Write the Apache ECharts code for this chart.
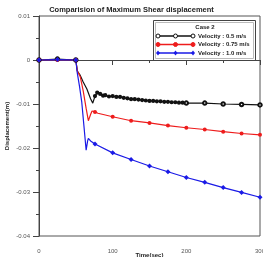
<!DOCTYPE html>
<html lang="en">
<head>
    <meta charset="UTF-8">
    <title></title>
    <script src="https://cdn.jsdelivr.net/npm/echarts@6/dist/echarts.min.js"></script>
    <style>
        body{margin:0;background:#fff;}
    </style>
</head>
<body>
    <div id="charts" style="width:263px;height:257px;"></div>
    <script type="text/javascript">
        // [time, displacement]
        var v05 = [[0,0],[25,0.0002],[50,0],[52,-0.0025],[56,-0.0035],[60,-0.005],[65,-0.0066],[70,-0.0088],[73,-0.0098],[76,-0.0082],[79,-0.0074],[83,-0.0077],[87,-0.0081],[90,-0.008],[95,-0.0083],[100,-0.0082],[105,-0.0084],[110,-0.0084],[115,-0.0086],[120,-0.0087],[125,-0.0089],[130,-0.0089],[135,-0.009],[140,-0.0091],[145,-0.0092],[150,-0.0093],[155,-0.0093],[160,-0.0094],[165,-0.0094],[170,-0.0095],[175,-0.0095],[180,-0.0096],[185,-0.0096],[190,-0.0097],[195,-0.0097],[200,-0.0098],[225,-0.0098],[250,-0.01],[275,-0.0101],[300,-0.0102]];
        var v075 = [[0,0],[25,0],[50,0],[52,-0.0025],[56,-0.0038],[60,-0.007],[64,-0.011],[67,-0.0138],[70,-0.0124],[72,-0.0116],[76,-0.0118],[80,-0.0121],[90,-0.0125],[100,-0.0129],[125,-0.0138],[150,-0.0143],[175,-0.0149],[200,-0.0154],[225,-0.0158],[250,-0.0163],[275,-0.0167],[300,-0.017]];
        var v10 = [[0,0],[25,0.0001],[50,0],[52,-0.003],[55,-0.006],[58,-0.0095],[61,-0.015],[64,-0.0205],[66,-0.0184],[67,-0.0178],[70,-0.0184],[76,-0.0191],[100,-0.0211],[125,-0.0226],[150,-0.0241],[175,-0.0254],[200,-0.0267],[225,-0.0278],[250,-0.029],[275,-0.0301],[300,-0.0312]];
        // times where the series show a full marker
        var markTimes = [0,25,50,76,100,125,150,175,200,225,250,275,300];
        var names = ['Velocity : 0.5 m/s','Velocity : 0.75 m/s','Velocity : 1.0 m/s'];
        var colors = ['#111111','#ee1c1c','#1a1ae6'];
        var symbols = ['emptyCircle','circle','diamond'];

        function sparse(size){
            return function(val){
                return markTimes.indexOf(val[0]) >= 0 ? size : 0;
            };
        }
        // black one has small dots on every sample after the dip
        function dense(val){
            if(markTimes.indexOf(val[0]) >= 0 && (val[0] <= 50 || val[0] >= 200)) return 3.5;
            return val[0] > 74 ? 2.2 : 0;
        }

        var ff = 'Liberation Sans, Arial, sans-serif';
        var myChart = echarts.init(document.getElementById('charts'));

        // legend drawn by hand: line with three markers each
        var legendEls = [
            {type:'rect',shape:{x:153.5,y:20.5,width:102,height:40},style:{fill:'#fff',stroke:'#444',lineWidth:1}},
            {type:'rect',shape:{x:155.5,y:22.5,width:98,height:36},style:{fill:'none',stroke:'#bbb',lineWidth:1}},
            {type:'text',x:205,y:27,style:{text:'Case 2',fill:'#222',font:'bold 6px '+ff,align:'center',verticalAlign:'middle'}}
        ];
        for(var i=0;i<3;i++){
            var y = 36 + i*8.5;
            legendEls.push({type:'line',shape:{x1:158,y1:y,x2:193,y2:y},style:{stroke:colors[i],lineWidth:1.3}});
            for(var k=0;k<3;k++){
                var cx = 158 + k*17.5;
                if(i==2){
                    legendEls.push({type:'polygon',shape:{points:[[cx,y-2.5],[cx+2,y],[cx,y+2.5],[cx-2,y]]},style:{fill:colors[i]}});
                }else{
                    legendEls.push({type:'circle',shape:{cx:cx,cy:y,r:2},style:{fill:i==0?'#fff':colors[i],stroke:colors[i],lineWidth:1}});
                }
            }
            legendEls.push({type:'text',x:198,y:y,style:{text:names[i],fill:'#222',font:'bold 6px '+ff,verticalAlign:'middle'}});
        }

        var axisStyle = {lineStyle:{color:'#444',width:1}};
        option = {
            animation:false,
            title:{
                text:'Comparision of Maximum Shear displacement',
                left:'center',
                top:1,
                textStyle:{fontFamily:ff,fontSize:7.5,fontWeight:'bold',color:'#222'}
            },
            grid:{left:39,right:3,top:16,bottom:21,outerBoundsMode:'none',show:true,borderColor:'#555',borderWidth:1},
            xAxis:{
                type:'value',min:0,max:300,interval:100,
                name:'Time(sec)',nameLocation:'middle',nameGap:16,nameMoveOverlap:false,
                nameTextStyle:{fontFamily:ff,fontSize:6,fontWeight:'bold',color:'#222'},
                axisLine:axisStyle,
                axisTick:{show:true,length:5,lineStyle:{color:'#444'}},
                minorTick:{show:true,splitNumber:2,length:3,lineStyle:{color:'#444'}},
                splitLine:{show:false},
                axisLabel:{fontFamily:ff,fontSize:6,color:'#555',margin:12}
            },
            yAxis:{
                type:'value',min:-0.04,max:0.01,interval:0.01,
                name:'Displacement(m)',nameLocation:'middle',nameGap:29,nameMoveOverlap:false,
                nameTextStyle:{fontFamily:ff,fontSize:6,fontWeight:'bold',color:'#222'},
                axisLine:axisStyle,
                axisTick:{show:true,length:6,lineStyle:{color:'#444'}},
                minorTick:{show:true,splitNumber:2,length:3,lineStyle:{color:'#444'}},
                splitLine:{show:false},
                axisLabel:{fontFamily:ff,fontSize:6,color:'#555',margin:9,
                    formatter:function(v){return v==0?'0':String(Math.round(v*100)/100);}}
            },
            series:[
                {name:names[0],type:'line',data:v05,symbol:symbols[0],symbolSize:dense,showAllSymbol:true,
                 lineStyle:{color:colors[0],width:1.2},itemStyle:{color:colors[0],borderWidth:1}},
                {name:names[1],type:'line',data:v075,symbol:symbols[1],symbolSize:sparse(4),showAllSymbol:true,
                 lineStyle:{color:colors[1],width:1.2},itemStyle:{color:colors[1]}},
                {name:names[2],type:'line',data:v10,symbol:symbols[2],symbolSize:sparse(5),showAllSymbol:true,
                 lineStyle:{color:colors[2],width:1.2},itemStyle:{color:colors[2]}}
            ],
            graphic:legendEls
        };
        myChart.setOption(option);
    </script>
</body>
</html>
